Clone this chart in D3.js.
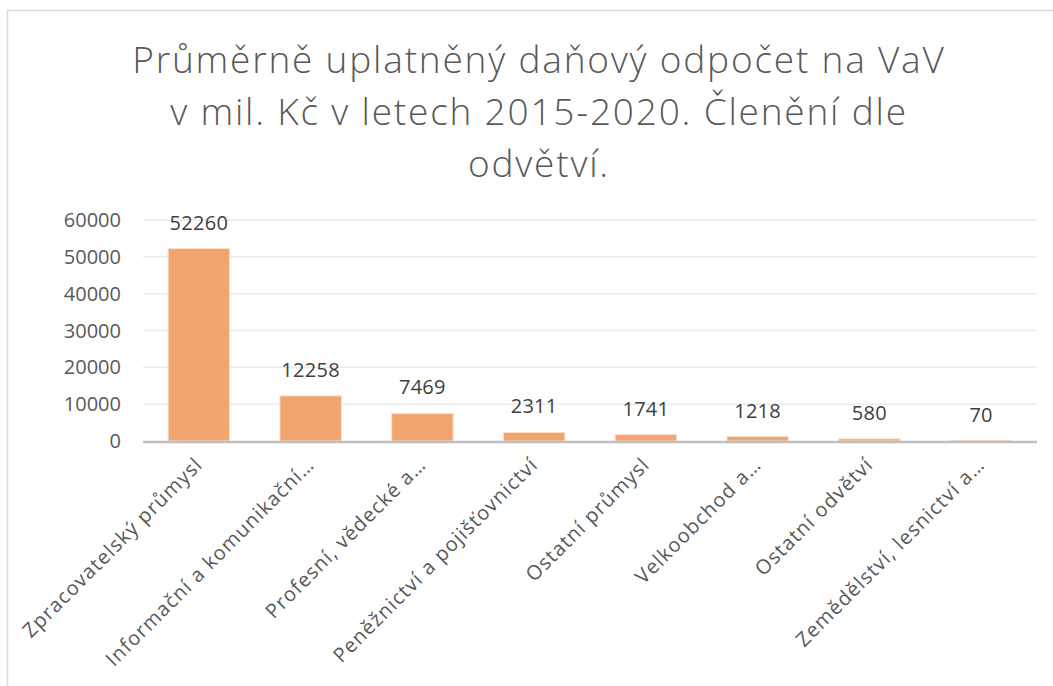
<!DOCTYPE html>
<html>
<head>
<meta charset="utf-8">
<script src="https://cdn.jsdelivr.net/npm/d3@7"></script>
<style>
  body{margin:0;background:#fff;}
  svg{display:block;}
</style>
</head>
<body>
<svg width="1053" height="686"></svg>
<script>
const categories=["Zpracovatelský průmysl","Informační a komunikační…","Profesní, vědecké a…","Peněžnictví a pojišťovnictví","Ostatní průmysl","Velkoobchod a…","Ostatní odvětví","Zemědělství, lesnictví a…"];
const values=[52260,12258,7469,2311,1741,1218,580,70];
const yTicks=[0,10000,20000,30000,40000,50000,60000];
const titleLines=["Průměrně uplatněný daňový odpočet na VaV","v mil. Kč v letech 2015-2020. Členění dle","odvětví."];

const svg=d3.select("svg");
const plotLeft=143, plotRight=1037, plotTop=220, plotBottom=441;

// frame
svg.append("path").attr("d","M7.5,686 V10.5 H1053").attr("fill","none").attr("stroke","#d9d9d9").attr("stroke-width",1.5);

// title
svg.append("g").selectAll("text").data(titleLines).enter().append("text")
   .attr("x",539).attr("y",(d,i)=>73+i*52)
   .attr("text-anchor","middle")
   .attr("font-family","'Open Sans'").attr("font-weight",300)
   .attr("font-size","37px").attr("letter-spacing","1.8px").attr("fill","#595959")
   .text(d=>d);

const xScale=d3.scaleBand().domain(categories).range([plotLeft,plotRight]).paddingInner(0.45).paddingOuter(0.225);
const yScale=d3.scaleLinear().domain([0,60000]).range([plotBottom,plotTop]);

// grid
svg.append("g").selectAll("line").data(yTicks.slice(1)).enter().append("line")
   .attr("x1",plotLeft).attr("x2",plotRight)
   .attr("y1",d=>yScale(d)).attr("y2",d=>yScale(d))
   .attr("stroke","#ebebeb").attr("stroke-width",1.5);

// y tick labels
svg.append("g").selectAll("text").data(yTicks).enter().append("text")
   .attr("x",121).attr("y",d=>yScale(d)+7)
   .attr("text-anchor","end")
   .attr("font-family","'Open Sans'").attr("font-size","20px").attr("fill","#595959")
   .text(d=>d);

// bars
svg.append("g").selectAll("rect").data(values).enter().append("rect")
   .attr("x",(d,i)=>xScale(categories[i]))
   .attr("y",d=>yScale(d))
   .attr("width",xScale.bandwidth())
   .attr("height",d=>plotBottom-yScale(d))
   .attr("fill","#f1a56f").attr("stroke","#fbe0cc").attr("stroke-width",1);

// axis line
svg.append("line").attr("x1",plotLeft).attr("x2",plotRight).attr("y1",plotBottom+1).attr("y2",plotBottom+1)
   .attr("stroke","#bfbfbf").attr("stroke-width",2.5);

// data labels
svg.append("g").selectAll("text").data(values).enter().append("text")
   .attr("x",(d,i)=>xScale(categories[i])+xScale.bandwidth()/2)
   .attr("y",d=>yScale(d)-19)
   .attr("text-anchor","middle")
   .attr("font-family","'Open Sans'").attr("font-size","20px").attr("letter-spacing","0.3px").attr("fill","#404040")
   .text(d=>d);

// category labels
svg.append("g").selectAll("text").data(categories).enter().append("text")
   .attr("transform",(d)=>"translate("+(xScale(d)+xScale.bandwidth()/2+5)+","+(plotBottom+25)+") rotate(-45)")
   .attr("text-anchor","end")
   .attr("font-family","'Open Sans'").attr("font-size","20px").attr("letter-spacing","1.1px").attr("fill","#595959")
   .text(d=>d);
</script>
</body>
</html>
